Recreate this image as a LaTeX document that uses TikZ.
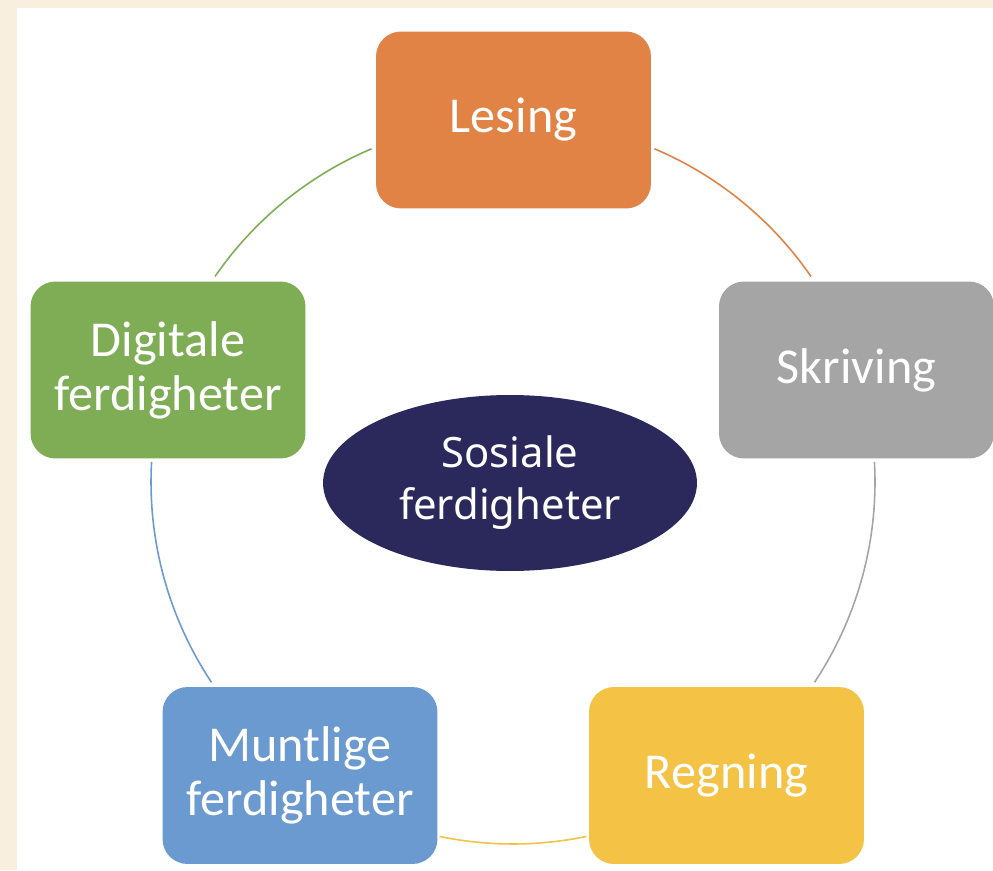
\documentclass[tikz,border=0pt]{standalone}
\usepackage{fontspec}
\setmainfont{Carlito}
\newfontfamily\corefont{Noto Sans}
\usetikzlibrary{shapes.geometric}
\definecolor{paper}{RGB}{248,239,222}
\definecolor{lesingc}{RGB}{224,131,69}
\definecolor{skrivingc}{RGB}{165,165,165}
\definecolor{regningc}{RGB}{244,194,69}
\definecolor{muntligc}{RGB}{106,154,208}
\definecolor{digitalc}{RGB}{127,173,85}
\definecolor{navy}{RGB}{43,41,92}
\tikzset{
	skill/.style={
		rectangle,
		rounded corners=0.5cm,
		minimum width=5.5cm,
		minimum height=3.54cm,
		inner sep=0pt,
		align=center,
		text=white,
		font=\fontsize{28.6}{30.6}\selectfont
	}
}

\begin{document}
\begin{tikzpicture}[x=0.02cm, y=0.02cm]
		\tikzstyle{core}=[ellipse, fill=navy, minimum width=7.48cm, minimum height=3.52cm, inner sep=0pt, align=center, text=white, font=\corefont\fontsize{23.8}{29.5}\selectfont]
		\tikzstyle{connect}=[line width=0.9pt]
		\useasboundingbox (0,0) rectangle (993,870);
		\fill[paper] (0,0) rectangle (993,870);
		\fill[white] (17,0) rectangle (993,862);
		
		\coordinate (c) at (513,388);
		\node[core] (sos) at (510,387) {Sosiale\\ferdigheter};
		
		\node[skill, fill=lesingc]  (les) at (513.5,750) {Lesing};
		\node[skill, fill=skrivingc] (skr) at (856.5,500) {Skriving};
		\node[skill, fill=regningc] (reg) at (726.5,94.5) {Regning};
		\node[skill, fill=muntligc] (mun) at (300,94.5) {Muntlige\\ferdigheter};
		\node[skill, fill=digitalc] (dig) at (168,500) {Digitale\\ferdigheter};
		
		% ring between the boxes
		\draw[connect, lesingc]   ([shift={(67:362)}]c) arc[start angle=67, end angle=34.6, radius=362];
		\draw[connect, skrivingc] ([shift={(3.2:362)}]c) arc[start angle=3.2, end angle=-33.6, radius=362];
		\draw[connect, regningc]  ([shift={(-78.3:362)}]c) arc[start angle=-78.3, end angle=-101.7, radius=362];
		\draw[connect, muntligc]  ([shift={(213.6:362)}]c) arc[start angle=213.6, end angle=176.8, radius=362];
		\draw[connect, digitalc]  ([shift={(145.4:362)}]c) arc[start angle=145.4, end angle=113, radius=362];
		
\end{tikzpicture}
\end{document}
